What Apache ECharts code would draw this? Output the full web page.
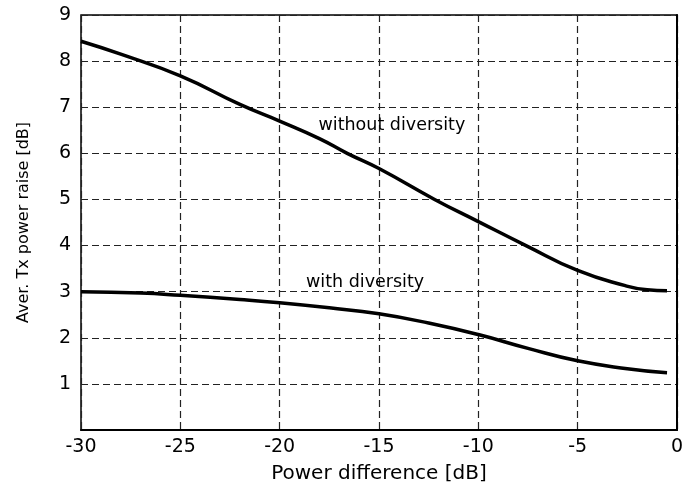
<!DOCTYPE html>
<html>
<head>
<meta charset="utf-8">
<script src="https://cdn.jsdelivr.net/npm/echarts@6/dist/echarts.min.js"></script>
<style>
html, body { margin: 0; padding: 0; background: #fff; }
#Echarts_Div { width: 686px; height: 490px; }
</style>
</head>
<body>
<div id="Echarts_Div"></div>
<script>
// power difference [dB] and the two curves
var withoutX = [-30, -28, -25, -22, -20, -18, -16.6, -15, -12.2, -10, -7.6, -5, -2.6, -1.5, -0.5];
var withoutY = [8.43, 8.15, 7.68, 7.06, 6.70, 6.32, 6.0, 5.67, 5.0, 4.52, 4.0, 3.46, 3.13, 3.04, 3.02];
var withX = [-30, -27, -25, -22, -20, -17.5, -15, -12.5, -10, -7.5, -5, -2.5, -0.5];
var withY = [3.0, 2.97, 2.92, 2.83, 2.76, 2.65, 2.52, 2.32, 2.07, 1.77, 1.5, 1.33, 1.24];
var xTicks = [-30, -25, -20, -15, -10, -5, 0];
var yTicks = [1, 2, 3, 4, 5, 6, 7, 8, 9];
var noteText = ['without diversity', 'with diversity'];
var noteX = [-14.35, -15.7];
var noteY = [6.61, 3.21];

function pairs(xs, ys){
    var out = [];
    for(var i = 0; i < xs.length; i++){
        out.push([xs[i], ys[i]]);
    }
    return out;
}

function drawChart(){
    var myChart = echarts.init(document.getElementById("Echarts_Div"));
    var font = '"DejaVu Sans", sans-serif';
    var gridLine = {show: true, lineStyle: {color: '#222', type: [7, 4], width: 1.2}};
    var notes = [];
    for(var i = 0; i < noteText.length; i++){
        notes.push({value: [noteX[i], noteY[i]], name: noteText[i]});
    }
    var option = {
        animation: false,
        backgroundColor: '#fff',
        grid: {left: 81, right: 3, top: 15, bottom: 60, show: true, borderColor: '#000', borderWidth: 1.5},
        xAxis: {
            type: 'value', min: -30, max: 0, interval: 5,
            name: 'Power difference [dB]', nameLocation: 'middle', nameGap: 34,
            nameTextStyle: {fontSize: 20, color: '#000', fontFamily: font},
            axisLine: {show: true, lineStyle: {color: '#000', width: 2}},
            axisTick: {show: false},
            axisLabel: {fontSize: 19, color: '#000', fontFamily: font, margin: 8,
                formatter: function(v){ return xTicks.indexOf(v) >= 0 ? String(v) : ''; }},
            splitLine: gridLine
        },
        yAxis: {
            type: 'value', min: 0, max: 9, interval: 1,
            name: 'Aver. Tx power raise [dB]', nameLocation: 'middle', nameGap: 49,
            nameTextStyle: {fontSize: 16, color: '#000', fontFamily: font},
            axisLine: {show: true, lineStyle: {color: '#000', width: 2}},
            axisTick: {show: false},
            axisLabel: {fontSize: 19, color: '#000', fontFamily: font, margin: 10,
                formatter: function(v){ return yTicks.indexOf(v) >= 0 ? String(v) : ''; }},
            splitLine: gridLine
        },
        series: [{
            type: 'line',
            data: pairs(withoutX, withoutY),
            smooth: 0.5,
            showSymbol: false,
            lineStyle: {color: '#000', width: 3.5}
        }, {
            type: 'line',
            data: pairs(withX, withY),
            smooth: 0.5,
            showSymbol: false,
            lineStyle: {color: '#000', width: 3.5}
        }, {
            type: 'scatter',
            data: notes,
            symbolSize: 0,
            itemStyle: {color: '#000', opacity: 1},
            label: {show: true, position: 'inside', formatter: '{b}', opacity: 1,
                textBorderWidth: 0, fontSize: 17.5, color: '#000', fontFamily: font}
        }]
    };
    myChart.setOption(option);
}
window.onload = function(){
    drawChart();
}
</script>
</body>
</html>
